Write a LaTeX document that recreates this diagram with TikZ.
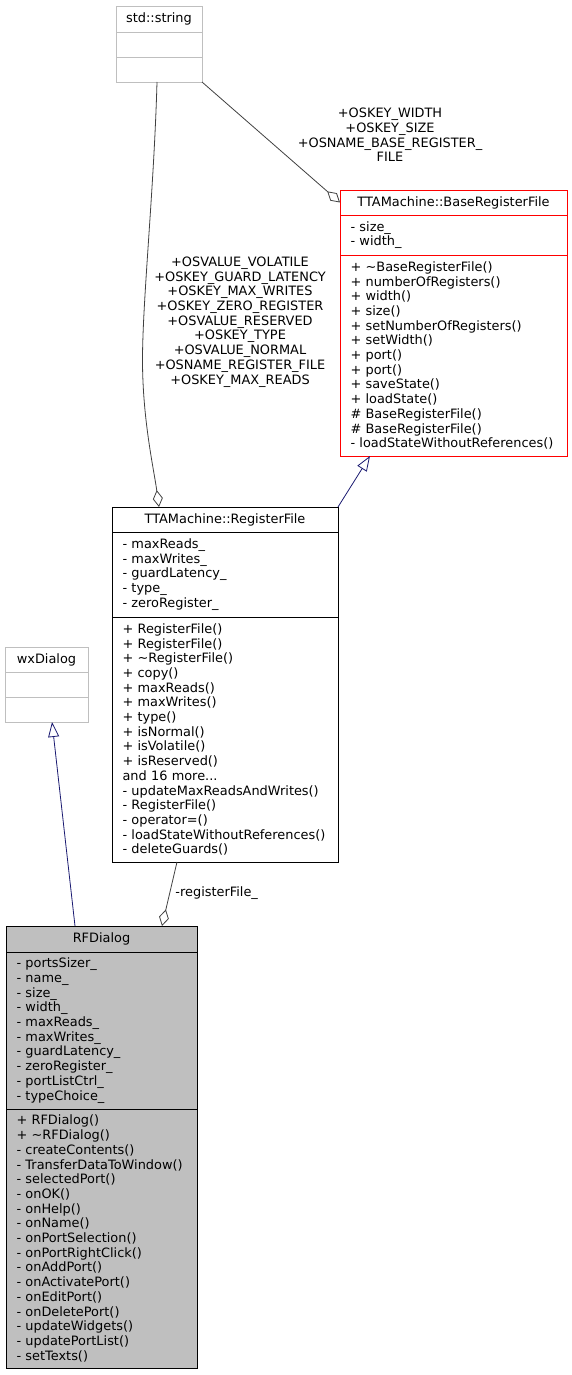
\documentclass[tikz,border=0pt]{standalone}
\usepackage{fontspec}
\setmainfont{DejaVu Sans}
\usetikzlibrary{arrows.meta, positioning}

\definecolor{edgegray}{HTML}{404040}
\definecolor{boxgray}{HTML}{BFBFBF}
\definecolor{inhblue}{HTML}{191970}

\begin{document}
\begin{tikzpicture}[x=1pt, y=-1pt, line width=0.9pt,
    font=\fontsize{12.9}{14.7}\selectfont,
    classtitle/.style={draw, minimum width=#1, minimum height=25pt, inner sep=0pt, outer sep=0pt},
    members/.style={draw, text width=#1, inner xsep=10.5pt, inner ysep=0pt, outer sep=0pt, align=left},
    comp/.style={draw=edgegray, line width=0.8pt, -{Diamond[open, length=17pt, width=10pt]}},
    inh/.style={draw=inhblue, line width=0.8pt, -{Triangle[open, length=15pt, width=11pt]}},
    edgelabel/.style={inner sep=0pt, align=center}]

        \useasboundingbox (0,0) rectangle (572,1375);

        % std::string
        \node[classtitle=86pt, draw=boxgray, minimum height=26pt, anchor=north west] (strT) at (116,6) {std::string};
        \node[members=65pt, draw=boxgray, minimum height=25pt, below=0pt of strT] (strA) {};
        \node[members=65pt, draw=boxgray, minimum height=25pt, below=0pt of strA] (strM) {};

        % TTAMachine::BaseRegisterFile
        \node[classtitle=227pt, draw=red, anchor=north west] (brfT) at (340,190) {TTAMachine::BaseRegisterFile};
        \node[members=206pt, draw=red, minimum height=40pt, below=0pt of brfT] (brfA) {- size\_\\- width\_};
        \node[members=206pt, draw=red, minimum height=201pt, below=0pt of brfA] (brfM) {+ \textasciitilde BaseRegisterFile()\\+ numberOfRegisters()\\+ width()\\+ size()\\+ setNumberOfRegisters()\\+ setWidth()\\+ port()\\+ port()\\+ saveState()\\+ loadState()\\\# BaseRegisterFile()\\\# BaseRegisterFile()\\- loadStateWithoutReferences()};

        % TTAMachine::RegisterFile
        \node[classtitle=226pt, anchor=north west] (rfT) at (112,507) {TTAMachine::RegisterFile};
        \node[members=205pt, minimum height=85pt, below=0pt of rfT] (rfA) {- maxReads\_\\- maxWrites\_\\- guardLatency\_\\- type\_\\- zeroRegister\_};
        \node[members=205pt, minimum height=245pt, below=0pt of rfA] (rfM) {+ RegisterFile()\\+ RegisterFile()\\+ \textasciitilde RegisterFile()\\+ copy()\\+ maxReads()\\+ maxWrites()\\+ type()\\+ isNormal()\\+ isVolatile()\\+ isReserved()\\and 16 more...\\- updateMaxReadsAndWrites()\\- RegisterFile()\\- operator=()\\- loadStateWithoutReferences()\\- deleteGuards()};

        % wxDialog
        \node[classtitle=83pt, draw=boxgray, anchor=north west] (wxT) at (5,647) {wxDialog};
        \node[members=62pt, draw=boxgray, minimum height=25pt, below=0pt of wxT] (wxA) {};
        \node[members=62pt, draw=boxgray, minimum height=25pt, below=0pt of wxA] (wxM) {};

        % RFDialog
        \node[classtitle=191pt, minimum height=26pt, fill=boxgray, anchor=north west] (rfdT) at (6,926) {RFDialog};
        \node[members=170pt, minimum height=157pt, fill=boxgray, below=0pt of rfdT] (rfdA) {- portsSizer\_\\- name\_\\- size\_\\- width\_\\- maxReads\_\\- maxWrites\_\\- guardLatency\_\\- zeroRegister\_\\- portListCtrl\_\\- typeChoice\_};
        \node[members=170pt, minimum height=259pt, fill=boxgray, below=0pt of rfdA] (rfdM) {+ RFDialog()\\+ \textasciitilde RFDialog()\\- createContents()\\- TransferDataToWindow()\\- selectedPort()\\- onOK()\\- onHelp()\\- onName()\\- onPortSelection()\\- onPortRightClick()\\- onAddPort()\\- onActivatePort()\\- onEditPort()\\- onDeletePort()\\- updateWidgets()\\- updatePortList()\\- setTexts()};

        % connectors
        \draw[comp] ([xshift=-2pt]strM.south) .. controls (154,190) and (142.5,300) .. (142.5,360)
            .. controls (142.5,420) and (154,470) .. ([xshift=-66pt]rfT.north);
        \draw[comp] (strM.south east) -- (brfT.west);
        \draw[inh] (rfT.north east) -- ([xshift=30pt]brfM.south west);
        \draw[inh] ([xshift=-26.5pt]rfdT.north) -- ([xshift=5.5pt]wxM.south);
        \draw[comp] ([xshift=-48pt]rfM.south) -- ([xshift=60.5pt]rfdT.north);

        \node[edgelabel] (lblStr) at (240,322) {+OSVALUE\_VOLATILE\\+OSKEY\_GUARD\_LATENCY\\+OSKEY\_MAX\_WRITES\\+OSKEY\_ZERO\_REGISTER\\+OSVALUE\_RESERVED\\+OSKEY\_TYPE\\+OSVALUE\_NORMAL\\+OSNAME\_REGISTER\_FILE\\+OSKEY\_MAX\_READS};
        \node[edgelabel] (lblBase) at (390,135) {+OSKEY\_WIDTH\\+OSKEY\_SIZE\\+OSNAME\_BASE\_REGISTER\_\\FILE};
        \node[edgelabel, anchor=west] (lblRf) at (175,893) {-registerFile\_};

\end{tikzpicture}
\end{document}
